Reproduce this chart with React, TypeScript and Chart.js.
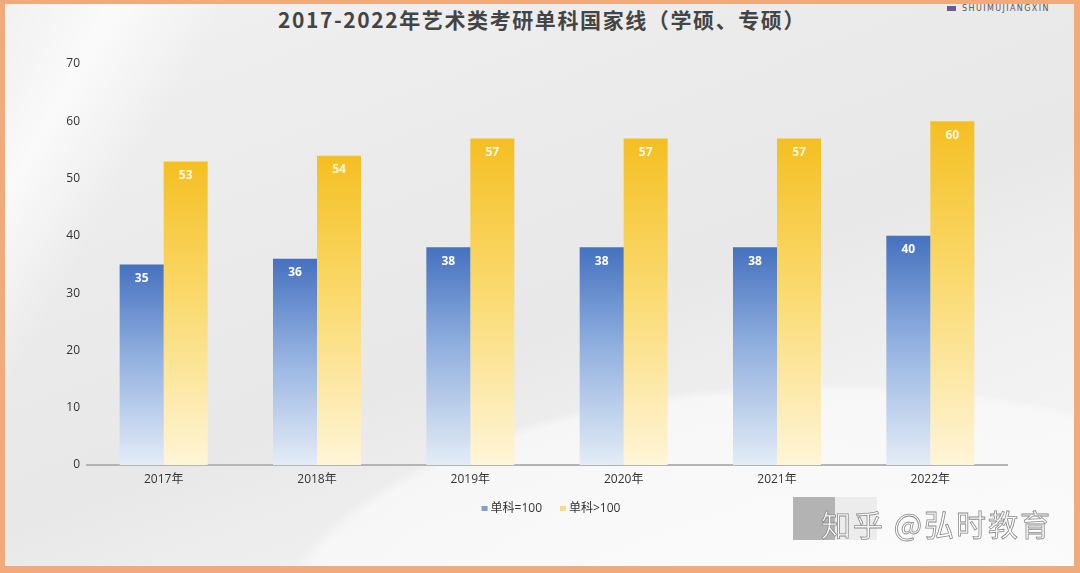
import React, { useEffect, useRef } from "react";
import { Chart, registerables } from "chart.js";

Chart.register(...registerables);

const categories = ["2017年", "2018年", "2019年", "2020年", "2021年", "2022年"];
const seriesEq100 = [35, 36, 38, 38, 38, 40];
const seriesGt100 = [53, 54, 57, 57, 57, 60];
const seriesNames = ["单科=100", "单科>100"];
const legendColors = ["#7f9fd3", "#f8d98a"];
const yTicks = [0, 10, 20, 30, 40, 50, 60, 70];
const titleText = "2017-2022年艺术类考研单科国家线（学硕、专硕）";

const FONT = '"Open Sans", "Noto Sans CJK SC", sans-serif';

function barGradient(ctx: any, top: string, mid: string, bottom: string) {
  const chart = ctx.chart;
  const area = chart.chartArea;
  const yScale = chart.scales?.y;
  if (!area || !yScale || ctx.raw === undefined) return top;
  const yTop = yScale.getPixelForValue(ctx.raw);
  const g = chart.ctx.createLinearGradient(0, yTop, 0, area.bottom);
  g.addColorStop(0, top);
  g.addColorStop(0.45, mid);
  g.addColorStop(1, bottom);
  return g;
}

const valueLabels = {
  id: "valueLabels",
  afterDatasetsDraw(chart: any) {
    const c = chart.ctx;
    c.save();
    c.font = `bold 12px ${FONT}`;
    c.textAlign = "center";
    c.textBaseline = "middle";
    chart.data.datasets.forEach((ds: any, di: number) => {
      const meta = chart.getDatasetMeta(di);
      meta.data.forEach((bar: any, i: number) => {
        c.fillStyle = di === 0 ? "#ffffff" : "#fff8e0";
        c.fillText(String(ds.data[i]), bar.x, bar.y + 14);
      });
    });
    c.restore();
  },
};

const customLegend = {
  id: "customLegend",
  afterDraw(chart: any) {
    const c = chart.ctx;
    const area = chart.chartArea;
    c.save();
    c.font = `12px ${FONT}`;
    c.textBaseline = "middle";
    const box = 6;
    const gapBoxText = 3;
    const gapItems = 18;
    const widths = seriesNames.map((n) => box + gapBoxText + c.measureText(n).width);
    const total = widths.reduce((a, b) => a + b, 0) + gapItems * (widths.length - 1);
    const cx = (area.left + area.right) / 2 + 4;
    let x = cx - total / 2;
    const y = area.bottom + 44;
    seriesNames.forEach((n, i) => {
      c.fillStyle = legendColors[i];
      c.fillRect(x, y - 3, box, 5);
      c.fillStyle = "#333333";
      c.textAlign = "left";
      c.fillText(n, x + box + gapBoxText, y);
      x += widths[i] + gapItems;
    });
    c.restore();
  },
};

export default function App() {
  const ref = useRef<HTMLCanvasElement | null>(null);

  useEffect(() => {
    if (!ref.current) return;
    const chart = new Chart(ref.current, {
      type: "bar",
      data: {
        labels: categories,
        datasets: [
          {
            label: seriesNames[0],
            data: seriesEq100,
            backgroundColor: (ctx: any) => barGradient(ctx, "#4571bf", "#90afdf", "#e4ecf7"),
            borderWidth: 0,
            categoryPercentage: 0.574,
            barPercentage: 1,
          },
          {
            label: seriesNames[1],
            data: seriesGt100,
            backgroundColor: (ctx: any) => barGradient(ctx, "#f4bf22", "#fad96c", "#fff5d8"),
            borderWidth: 0,
            categoryPercentage: 0.574,
            barPercentage: 1,
          },
        ],
      },
      options: {
        animation: false,
        responsive: false,
        maintainAspectRatio: false,
        layout: { padding: { top: 60, right: 67, bottom: 65, left: 0 } },
        plugins: {
          title: { display: false },
          tooltip: { enabled: false },
          legend: { display: false },
        },
        scales: {
          x: {
            grid: { display: false, drawTicks: false },
            border: { display: true, color: "#b4b4b4", width: 2 },
            ticks: { font: { family: FONT, size: 12 }, color: "#333333", padding: 7 },
            afterFit: (s: any) => {
              s.height = 36;
            },
          },
          y: {
            min: 0,
            max: 70,
            afterBuildTicks: (s: any) => {
              s.ticks = yTicks.map((v) => ({ value: v }));
            },
            grid: { display: false, drawTicks: false },
            border: { display: false },
            ticks: { font: { family: FONT, size: 12 }, color: "#333333", padding: 7 },
            afterFit: (s: any) => {
              s.width = 82;
            },
          },
        },
      },
      plugins: [valueLabels, customLegend],
    });
    return () => chart.destroy();
  }, []);

  return (
    <div
      style={{
        position: "absolute",
        left: 0,
        top: 0,
        width: 1080,
        height: 573,
        boxSizing: "border-box",
        borderStyle: "solid",
        borderColor: "#f1aa7c",
        borderWidth: "4px 6px 7px 5px",
        overflow: "hidden",
        background:
          "radial-gradient(ellipse 900px 420px at 820px 640px, rgba(252,252,252,0.9) 0%, rgba(250,250,250,0.7) 60%, rgba(250,250,250,0) 62%), " +
          "linear-gradient(120deg, rgba(255,255,255,0) 0%, rgba(255,255,255,0.7) 8%, rgba(255,255,255,0) 16%), " +
          "linear-gradient(160deg, #f1f1f1 0%, #ebebeb 30%, #e8e8e8 55%, #f0f0f0 72%, #f7f7f7 100%)",
      }}
    >
      <div
        style={{
          position: "absolute",
          left: 7,
          width: 1060,
          top: 2,
          textAlign: "center",
          fontFamily: '"Noto Sans CJK SC", sans-serif',
          fontWeight: 700,
          fontSize: 21,
          letterSpacing: 1.6,
          color: "#444444",
          lineHeight: "26px",
        }}
      >
        {titleText}
      </div>
      <div
        style={{
          position: "absolute",
          left: 942,
          top: 0,
          fontFamily: '"DejaVu Sans", sans-serif',
          fontSize: 8,
          letterSpacing: 1.4,
          color: "#555",
          lineHeight: "10px",
          whiteSpace: "nowrap",
        }}
      >
        <span style={{ display: "inline-block", width: 9, height: 5, background: "#6a5a9a", marginRight: 6 }} />
        SHUIMUJIANGXIN
      </div>
      <canvas ref={ref} width={1069} height={562} style={{ position: "absolute", left: 0, top: 0, width: 1069, height: 562 }} />
      <div style={{ position: "absolute", left: 788, top: 493, width: 42, height: 43, background: "#b3b3b3" }} />
      <div style={{ position: "absolute", left: 830, top: 493, width: 42, height: 43, background: "#ececec" }} />
      <div
        style={{
          position: "absolute",
          left: 816,
          top: 501,
          fontFamily: '"Noto Sans CJK SC", sans-serif',
          fontSize: 30,
          color: "#ffffff",
          WebkitTextStroke: "0.8px #8a8a8a",
          letterSpacing: 2,
          lineHeight: "36px",
          whiteSpace: "nowrap",
        }}
      >
        知乎 @弘时教育
      </div>
    </div>
  );
}
